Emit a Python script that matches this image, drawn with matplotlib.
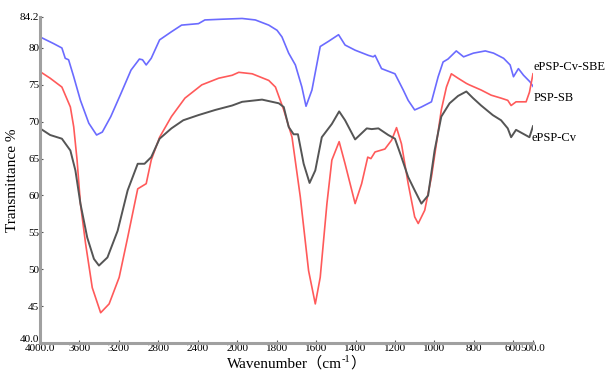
import numpy as np
import matplotlib
matplotlib.use("Agg")
import matplotlib.pyplot as plt
import matplotlib.transforms as mtransforms

# ePSP-Cv-SBE (blue)
sbe_w = [4000, 3863, 3778, 3744, 3710, 3658, 3590, 3505, 3426, 3368, 3282, 3180, 3077,
         2992, 2960, 2923, 2872, 2787, 2667, 2564, 2393, 2328, 2154, 1975, 1908, 1840,
         1798, 1773, 1739, 1705, 1672, 1651, 1621, 1579, 1537, 1486, 1453, 1402, 1335,
         1310, 1301, 1268, 1200, 1158, 1133, 1100, 1066, 1015, 981, 956, 931, 889, 852,
         802, 742, 700, 649, 616, 599, 574, 548, 515, 500]
sbe_t = [81.5, 80.6, 80.0, 78.6, 78.4, 76.1, 72.9, 69.8, 68.2, 68.6, 70.7, 73.8, 77.0,
         78.5, 78.4, 77.7, 78.6, 81.1, 82.2, 83.1, 83.3, 83.8, 83.9, 84.0, 83.8, 83.1,
         82.4, 81.5, 79.3, 77.7, 74.7, 72.1, 74.3, 80.2, 80.9, 81.8, 80.4, 79.7, 79.0,
         78.8, 79.0, 77.2, 76.5, 74.3, 72.9, 71.6, 72.0, 72.7, 76.1, 78.1, 78.5, 79.6, 78.8,
         79.3, 79.6, 79.3, 78.6, 77.7, 76.1, 77.2, 76.3, 75.4, 74.8]

# PSP-SB (red)
sb_w = [4000, 3897, 3778, 3692, 3658, 3624, 3590, 3538, 3470, 3385, 3299, 3197, 3111,
        3009, 2923, 2872, 2787, 2667, 2530, 2359, 2188, 2051, 1992, 1924, 1840, 1806,
        1764, 1722, 1680, 1638, 1604, 1579, 1545, 1520, 1483, 1453, 1402, 1369, 1338,
        1322, 1301, 1251, 1217, 1192, 1167, 1133, 1100, 1082, 1049, 1015, 990, 965, 939,
        914, 880, 838, 823, 763, 712, 662, 628, 611, 586, 535, 518, 500]
sb_t = [76.8, 75.9, 74.7, 72.0, 69.3, 64.8, 58.9, 53.5, 47.5, 44.1, 45.3, 48.9, 54.3,
        60.9, 61.6, 64.8, 67.9, 70.7, 73.2, 75.0, 75.9, 76.3, 76.7, 76.5, 75.6, 74.7,
        71.6, 67.9, 59.8, 49.8, 45.3, 48.9, 58.9, 64.8, 67.3, 64.3, 58.9, 61.6, 65.2,
        65.0, 65.9, 66.3, 67.5, 69.2, 67.0, 61.6, 57.1, 56.2, 58.0, 62.5, 67.0, 71.6, 74.7,
        76.5, 75.9, 75.2, 75.0, 74.3, 73.6, 73.2, 72.9, 72.2, 72.7, 72.7, 74.0, 76.5]

# ePSP-Cv (gray)
cv_w = [4000, 3897, 3778, 3692, 3641, 3590, 3521, 3453, 3402, 3316, 3213, 3111, 3009,
        2940, 2872, 2787, 2667, 2547, 2393, 2222, 2051, 1975, 1874, 1789, 1764, 1739,
        1714, 1692, 1663, 1633, 1604, 1571, 1520, 1483, 1453, 1402, 1343, 1318, 1284,
        1234, 1200, 1167, 1133, 1100, 1066, 1032, 999, 965, 923, 880, 838, 804, 763,
        704, 662, 628, 611, 586, 552, 518, 500]
cv_t = [69.1, 68.2, 67.7, 66.1, 63.4, 58.9, 54.3, 51.4, 50.5, 51.6, 55.2, 60.7, 64.3,
        64.3, 65.2, 67.7, 69.1, 70.2, 70.9, 71.6, 72.2, 72.7, 73.0, 72.5, 72.0, 69.3,
        68.3, 68.3, 64.3, 61.7, 63.4, 67.9, 69.7, 71.4, 70.2, 67.6, 69.1, 69.0, 69.1,
        68.2, 67.7, 65.2, 62.5, 60.7, 58.9, 60.0, 66.1, 70.7, 72.5, 73.5, 74.1, 73.2, 72.2,
        70.9, 70.2, 69.1, 67.9, 68.9, 68.4, 67.9, 69.4]

x_ticks = [4000, 3600, 3200, 2800, 2400, 2000, 1800, 1600, 1400, 1200, 1000, 800, 600, 500]
x_labels = ["4000.0", "3600", "3200", "2800", "2400", "2000", "1800", "1600", "1400",
            "1200", "1000", "800", "600", "500.0"]
y_ticks = [40, 45, 50, 55, 60, 65, 70, 75, 80, 84.2]
y_labels = ["40.0", "45", "50", "55", "60", "65", "70", "75", "80", "84.2"]

FAM = ['Liberation Serif', 'Noto Sans CJK SC', 'DejaVu Sans']
plt.rcParams['font.family'] = FAM

def fwd(w):
    w = np.asarray(w, dtype=float)
    return np.where(w > 2000, 2000 + (w - 2000) / 2.0, w)

def inv(u):
    u = np.asarray(u, dtype=float)
    return np.where(u > 2000, 2000 + (u - 2000) * 2.0, u)

W, H = 606, 372
fig = plt.figure(figsize=(W / 100, H / 100), dpi=100)
ax = fig.add_axes([40/W, 1 - 343/H, (533 - 40)/W, (343 - 17)/H])
ax.set_xscale('function', functions=(fwd, inv))

ax.plot(sbe_w, sbe_t, color='#6b6bff', lw=1.2)
ax.plot(sb_w, sb_t, color='#ff5a5a', lw=1.2)
ax.plot(cv_w, cv_t, color='#555555', lw=1.4)

ax.set_xlim(4000, 500)
ax.set_ylim(40, 84.2)
ax.set_xticks(x_ticks)
ax.set_xticklabels(x_labels)
ax.set_yticks(y_ticks)
ax.set_yticklabels(y_labels)
ax.minorticks_off()
ax.tick_params(axis='both', labelsize=8, length=2, width=0.8, pad=0.5,
               direction='in', color='#555555')

# nudge the bottom y label up a bit (as in the reference)
lab0 = ax.get_yticklabels()[0]
lab0.set_transform(lab0.get_transform() + mtransforms.ScaledTranslation(0, 4 / 100, fig.dpi_scale_trans))

for s in ['top', 'right']:
    ax.spines[s].set_visible(False)
for s in ['left', 'bottom']:
    ax.spines[s].set_color('#a0a0a0')
    ax.spines[s].set_linewidth(2.2)

ax.set_ylabel('Transmittance %', fontsize=11, labelpad=1)

# x label composed of pieces (no mathtext so font fallback works)
renderer = fig.canvas.get_renderer()
y0 = (H - 368) / H
t1 = fig.text(227 / W, y0, 'Wavenumber（cm', fontsize=11, va='baseline', ha='left')
bb1 = t1.get_window_extent(renderer)
t2 = fig.text(bb1.x1 / W, y0 + 6 / H, '-1', fontsize=7.5, va='baseline', ha='left')
bb2 = t2.get_window_extent(renderer)
t3 = fig.text(bb2.x1 / W, y0, '）', fontsize=11, va='baseline', ha='left')

ax.text(1.0, (342 - 67) / 325, 'ePSP-Cv-SBE', transform=ax.transAxes, fontsize=9,
        va='center', ha='left', clip_on=False)
ax.text(1.002, (342 - 98) / 325, 'PSP-SB', transform=ax.transAxes, fontsize=9,
        va='center', ha='left', clip_on=False)
ax.text(0.997, (342 - 138) / 325, 'ePSP-Cv', transform=ax.transAxes, fontsize=9,
        va='center', ha='left', clip_on=False)

fig.savefig('out.png', dpi=100)
